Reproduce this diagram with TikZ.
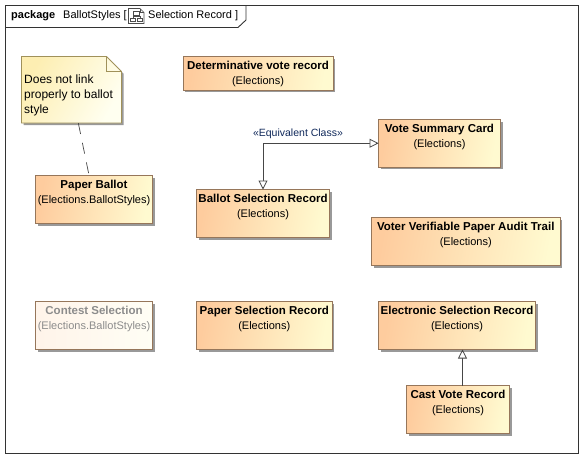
\documentclass[tikz,border=0pt]{standalone}
\usepackage{fontspec}
\setmainfont{Liberation Sans}
\usetikzlibrary{shadows,arrows.meta,calc}
\definecolor{orangeL}{RGB}{254,204,158}
\definecolor{orangeR}{RGB}{255,250,208}
\definecolor{edgeC}{RGB}{150,118,90}
\definecolor{noteL}{RGB}{253,238,178}
\definecolor{noteR}{RGB}{255,255,240}
\definecolor{noteE}{RGB}{160,145,90}
\definecolor{lineC}{RGB}{70,70,70}
\definecolor{labelC}{RGB}{15,40,90}
\newcommand{\ctitle}[1]{{\fontsize{11.5}{15}\selectfont\bfseries #1}}
\tikzset{
 x=1pt,y=-1pt,
 classbox/.style={draw=edgeC,line width=0.9pt,left color=orangeL,right color=orangeR,shading angle=80,
   drop shadow={shadow xshift=2pt,shadow yshift=-2pt,fill=black,opacity=0.4},
   inner sep=0pt,outer sep=0pt},
 faded/.style={left color=orangeL!22!white,right color=orangeR!22!white},
 classtxt/.style={anchor=north,align=center,inner sep=0pt,font=\fontsize{11}{15}\selectfont,text=black},
 gen/.style={draw=lineC,line width=0.8pt,-{Triangle[open,fill=white,length=9pt,width=9pt]}},
 headtxt/.style={anchor=base west,inner sep=0pt,font=\fontsize{11}{13}\selectfont},
}
\newcommand{\cls}[7][]{% style, name, x1,y1,x2,y2, label
 \node[classbox,#1,minimum width={#5-#3},minimum height={#6-#4}] (#2) at ({(#3+#5)/2},{(#4+#6)/2}) {};
 \node[classtxt] (#2txt) at ([yshift=-4.5pt]#2.north) {#7};
}
\begin{document}
\begin{tikzpicture}
\useasboundingbox (0,0) rectangle (584,458);
\fill[white] (0,0) rectangle (584,458);
% frame
\draw[draw=black!80,line width=0.9pt] (5.5,5.5) rectangle (578,453);
\draw[draw=black!80,line width=0.9pt] (5.5,27.5) -- (238,27.5) -- (246,20) -- (246,5.5);
\node[headtxt] (hpkg) at (11,18) {\textbf{package}};
\node[headtxt] (hname) at (63,18) {BallotStyles [};
\node[headtxt] (hdiag) at (148,18) {Selection Record ]};
% icon
\begin{scope}[draw=black!70,line width=0.6pt]
\draw (128.5,8.5) -- (140,8.5) -- (144,12.5) -- (144,23.5) -- (128.5,23.5) -- cycle;
\draw (140,8.5) -- (140,12.5) -- (144,12.5);
\draw (133,11.5) rectangle (139,15);
\draw (130.5,18) rectangle (135.5,21.5);
\draw (137.5,18) rectangle (142,21.5);
\draw (136,15) -- (136,16.5) (133,18) -- (133,16.5) -- (140,16.5) -- (140,18);
\end{scope}
% note
\fill[black,opacity=0.4] (23.5,58.5) -- (108.5,58.5) -- (123.5,73.5) -- (123.5,125) -- (23.5,125) -- cycle;
\shade[left color=noteL,right color=noteR,shading angle=60]
  (21.5,56.5) -- (106.5,56.5) -- (121.5,71.5) -- (121.5,123) -- (21.5,123) -- cycle;
\draw[noteE,line width=0.9pt] (21.5,56.5) -- (106.5,56.5) -- (121.5,71.5) -- (121.5,123) -- (21.5,123) -- cycle;
\draw[noteE,line width=0.9pt] (106.5,56.5) -- (106.5,71.5) -- (121.5,71.5);
\node[anchor=center,minimum width=100pt,minimum height=66.5pt,inner sep=0pt] (note) at (71.5,89.75) {};
\node[anchor=north west,align=left,inner sep=0pt,font=\fontsize{12}{15}\selectfont] (notetxt) at (24,75) {Does not link\\properly to ballot\\style};
% classes
\cls{det}{183}{56.5}{333}{90}{\ctitle{Determinative vote record}\\(Elections)}
\cls{vsc}{378.5}{119.5}{500.5}{167}{\ctitle{Vote Summary Card}\\(Elections)}
\cls{bsr}{196.5}{189.5}{329.5}{237.5}{\ctitle{Ballot Selection Record}\\(Elections)}
\cls{vvp}{371.5}{217.5}{560}{265.5}{\ctitle{Voter Verifiable Paper Audit Trail}\\(Elections)}
\cls{pb}{35.5}{175.5}{152.5}{223.5}{\ctitle{Paper Ballot}\\(Elections.BallotStyles)}
\cls[faded]{cs}{35.5}{301.5}{152.5}{349.5}{\textcolor{black!45}{\ctitle{Contest Selection}}\\\textcolor{black!45}{(Elections.BallotStyles)}}
\cls{psr}{196.5}{301.5}{332}{349.5}{\ctitle{Paper Selection Record}\\(Elections)}
\cls{esr}{378.5}{301.5}{535.5}{349.5}{\ctitle{Electronic Selection Record}\\(Elections)}
\cls{cvr}{406.5}{385.5}{509.5}{433.5}{\ctitle{Cast Vote Record}\\(Elections)}
% connectors
\draw[lineC,line width=0.7pt,dash pattern=on 11pt off 9pt] (note) -- (pb);
\draw[gen] (cvr.north -| 462.5,0) -- (esr.south -| 462.5,0);
\coordinate (elbow) at (bsr.north |- vsc.west);
\draw[gen] (elbow) -- (vsc.west);
\draw[gen] (elbow) -- (bsr.north);
\node[anchor=center,inner sep=0pt,font=\fontsize{10.5}{12}\selectfont,text=labelC] (eqlbl) at (298,134) {«Equivalent Class»};
\end{tikzpicture}
\end{document}
